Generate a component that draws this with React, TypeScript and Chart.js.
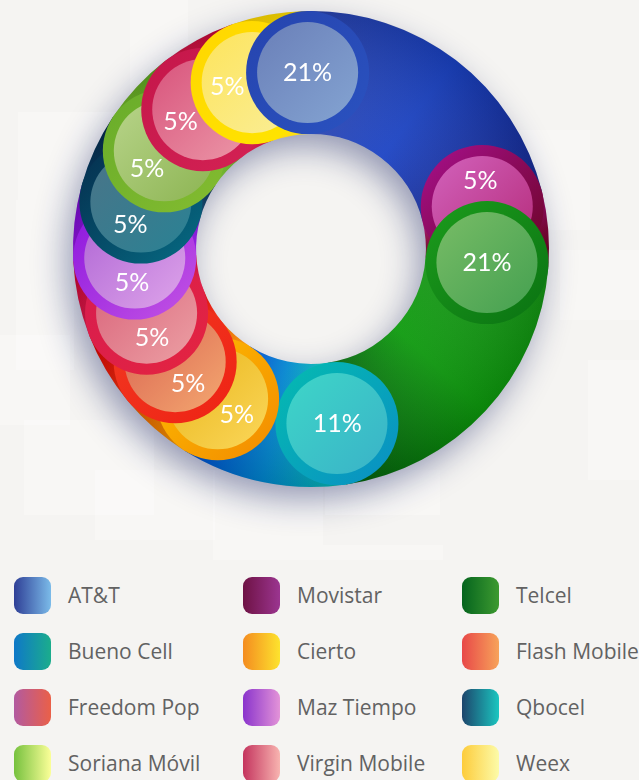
import React, { useEffect, useRef } from 'react';
import { Chart, registerables } from 'chart.js';

Chart.register(...registerables);

// ---------- data ----------
const categories = [
  'AT&T', 'Movistar', 'Telcel', 'Bueno Cell', 'Cierto', 'Flash Mobile',
  'Freedom Pop', 'Maz Tiempo', 'Qbocel', 'Soriana Móvil', 'Virgin Mobile', 'Weex',
];
const shares = [21, 5, 21, 11, 5, 5, 5, 5, 5, 5, 5, 5];
const shareLabels = shares.map((v) => `${v}%`);

// ---------- colours ----------
const bodyFrom = ['#2a44ae', '#a40c80', '#179417', '#06bfae', '#f5a000', '#f23a12', '#dc2050', '#9818e2', '#06406a', '#74ba2a', '#d2184a', '#ffd400'];
const bodyMid = ['#1a42c4', '#86063c', '#0c9a0c', '#0086d0', '#ee7a00', '#e81808', '#d41040', '#8410d8', '#053256', '#66ac24', '#cc1040', '#ffdc00'];
const bodyTo = ['#182a90', '#5e0018', '#055c0e', '#0048d0', '#e35500', '#d40000', '#c80030', '#7008c8', '#04264a', '#58a01e', '#c40030', '#ffe000'];

const capRingFrom = ['#2644ae', '#a8108e', '#1c9c1c', '#04bcb0', '#ffc000', '#f23a22', '#d61c50', '#8a14de', '#052c4c', '#68ac2a', '#c4164a', '#ffd600'];
const capRingTo = ['#2a52c0', '#680420', '#0a7212', '#0a8ec4', '#f28a00', '#ee2214', '#e42440', '#c454e4', '#066c84', '#84bc30', '#d42254', '#ffe600'];
const capInnerFrom = ['#6a7fb8', '#d262bc', '#78bc66', '#3ed6c8', '#e8b418', '#d86050', '#d86078', '#ae64d4', '#4a7488', '#b8d48a', '#d8537c', '#fde45c'];
const capInnerTo = ['#84a4d2', '#b42a78', '#44a050', '#3ab2c8', '#fbd75a', '#f4a870', '#eca0a4', '#dea4ea', '#2a8294', '#8cb452', '#ec98a8', '#faee98'];

const legendFrom = ['#2f3f96', '#6e1244', '#05641e', '#0f78c8', '#f48c20', '#e84848', '#b25aa0', '#8a34cc', '#1d456c', '#76c13e', '#c4345e', '#fdcc3c'];
const legendTo = ['#7bbbe9', '#9b3590', '#3d9a30', '#1bad8c', '#fde32e', '#f7a35a', '#ea6048', '#e393d8', '#1bc6c0', '#fbff98', '#f8b4b0', '#fcfba8'];

const PAGE_BG = '#f5f4f2';
const ROTATION_DEG = -1.1;
const CAP_BORDER = 11;

const backdropPanes = [
  [130, 0, 58, 115], [18, 112, 100, 88], [16, 200, 58, 170], [0, 335, 70, 90],
  [24, 420, 130, 95], [95, 470, 120, 70], [213, 470, 110, 75], [325, 470, 115, 45],
  [520, 130, 70, 100], [560, 250, 79, 70], [588, 360, 51, 120], [213, 545, 230, 30],
];

function segmentAngles(i: number): [number, number] {
  const total = shares.reduce((a, b) => a + b, 0);
  let before = 0;
  for (let k = 0; k < i; k++) before += shares[k];
  const start = -Math.PI / 2 + (ROTATION_DEG * Math.PI) / 180 + (2 * Math.PI * before) / total;
  const end = start + (2 * Math.PI * shares[i]) / total;
  return [start, end];
}

function segmentFill(c: any) {
  const i = c.dataIndex;
  const chart = c.chart;
  const area = chart.chartArea;
  if (!area || i === undefined) return bodyFrom[i ?? 0];
  const cx = (area.left + area.right) / 2;
  const cy = (area.top + area.bottom) / 2;
  const [a0, a1] = segmentAngles(i);
  const f = (a1 - a0) / (2 * Math.PI);
  const g = chart.ctx.createConicGradient(a0, cx, cy);
  g.addColorStop(0, bodyFrom[i]);
  g.addColorStop(f * 0.5, bodyMid[i]);
  g.addColorStop(f, bodyTo[i]);
  g.addColorStop(1, bodyTo[i]);
  return g;
}

const backdropPlugin = {
  id: 'backdrop',
  beforeDraw(chart: any) {
    const ctx = chart.ctx;
    ctx.save();
    ctx.fillStyle = 'rgba(255,255,255,0.28)';
    backdropPanes.forEach(([x, y, w, h]) => ctx.fillRect(x, y, w, h));
    ctx.restore();
  },
};

const ringShadowPlugin = {
  id: 'ringShadow',
  beforeDatasetsDraw(chart: any) {
    const meta = chart.getDatasetMeta(0);
    const el = meta.data[0];
    if (!el) return;
    const { x, y, innerRadius, outerRadius } = el;
    const ctx = chart.ctx;
    ctx.save();
    ctx.beginPath();
    ctx.arc(x, y, outerRadius - 1, 0, Math.PI * 2);
    ctx.arc(x, y, innerRadius + 1, 0, Math.PI * 2, true);
    ctx.closePath();
    ctx.shadowColor = 'rgba(25,35,100,0.45)';
    ctx.shadowBlur = 34;
    ctx.shadowOffsetX = -7;
    ctx.shadowOffsetY = 13;
    ctx.fillStyle = '#1d3aa0';
    ctx.fill('evenodd');
    ctx.restore();
  },
};

const capsPlugin = {
  id: 'caps',
  afterDatasetsDraw(chart: any) {
    const meta = chart.getDatasetMeta(0);
    const arcs = meta.data;
    if (!arcs.length) return;
    const ctx = chart.ctx;
    const { x, y, innerRadius, outerRadius } = arcs[0];
    const R = (outerRadius - innerRadius) / 2;
    const mid = innerRadius + R;

    // subtle radial shading over the ring body
    ctx.save();
    const rg = ctx.createRadialGradient(x, y, innerRadius, x, y, outerRadius);
    rg.addColorStop(0, 'rgba(255,255,255,0.06)');
    rg.addColorStop(1, 'rgba(0,0,0,0.14)');
    ctx.beginPath();
    ctx.arc(x, y, outerRadius, 0, Math.PI * 2);
    ctx.arc(x, y, innerRadius, 0, Math.PI * 2, true);
    ctx.fillStyle = rg;
    ctx.fill('evenodd');
    ctx.restore();

    const centers = arcs.map((a: any) => [x + mid * Math.cos(a.startAngle), y + mid * Math.sin(a.startAngle)]);
    const order = arcs.map((_: any, i: number) => (i + 1) % arcs.length);

    order.forEach((i: number) => {
      const [cx, cy] = centers[i];
      ctx.save();
      const ring = ctx.createLinearGradient(cx - R, cy - R, cx + R, cy + R);
      ring.addColorStop(0, capRingFrom[i]);
      ring.addColorStop(1, capRingTo[i]);
      ctx.beginPath();
      ctx.arc(cx, cy, R, 0, Math.PI * 2);
      ctx.fillStyle = ring;
      ctx.fill();
      const r2 = R - CAP_BORDER;
      const inner = ctx.createLinearGradient(cx - r2, cy - r2, cx + r2, cy + r2);
      inner.addColorStop(0, capInnerFrom[i]);
      inner.addColorStop(1, capInnerTo[i]);
      ctx.beginPath();
      ctx.arc(cx, cy, r2, 0, Math.PI * 2);
      ctx.fillStyle = inner;
      ctx.fill();
      ctx.restore();
    });

    // labels, nudged away from the next (overlapping) cap
    ctx.save();
    ctx.fillStyle = '#ffffff';
    ctx.font = '25px Lato, "Open Sans", sans-serif';
    ctx.textAlign = 'center';
    ctx.textBaseline = 'middle';
    arcs.forEach((_: any, i: number) => {
      const [cx, cy] = centers[i];
      const [nx, ny] = centers[(i + 1) % arcs.length];
      const dx = cx - nx;
      const dy = cy - ny;
      const d = Math.hypot(dx, dy) || 1;
      const shift = Math.max(0, 2 * R - d) * 0.38;
      ctx.fillText(shareLabels[i], cx + (dx / d) * shift, cy + (dy / d) * shift);
    });
    ctx.restore();
  },
};

export default function App() {
  const canvasRef = useRef<HTMLCanvasElement>(null);

  useEffect(() => {
    document.body.style.margin = '0';
    document.body.style.background = PAGE_BG;
    const canvas = canvasRef.current;
    if (!canvas) return;
    const chart = new Chart(canvas, {
      type: 'doughnut',
      data: {
        labels: categories,
        datasets: [
          {
            data: shares,
            backgroundColor: segmentFill as any,
            borderWidth: 0,
            offset: 0,
            hoverOffset: 0,
          } as any,
        ],
      },
      options: {
        responsive: false,
        maintainAspectRatio: false,
        animation: false,
        devicePixelRatio: 1,
        rotation: ROTATION_DEG,
        cutout: '48.3%',
        events: [],
        layout: { padding: { top: 11, left: 73, right: 90, bottom: 73 } },
        plugins: { legend: { display: false }, tooltip: { enabled: false } },
      } as any,
      plugins: [backdropPlugin, ringShadowPlugin, capsPlugin],
    });
    return () => chart.destroy();
  }, []);

  return (
    <div
      style={{
        position: 'fixed',
        left: 0,
        top: 0,
        width: 639,
        height: 780,
        overflow: 'hidden',
        background: PAGE_BG,
        fontFamily: '"Open Sans", sans-serif',
      }}
    >
      <canvas
        ref={canvasRef}
        width={639}
        height={560}
        style={{ position: 'absolute', left: 0, top: 0, width: 639, height: 560 }}
      />
      <div
        style={{
          position: 'absolute',
          left: 14,
          top: 577,
          display: 'grid',
          gridTemplateColumns: '229px 219px 180px',
          rowGap: 19,
        }}
      >
        {categories.map((name, i) => (
          <div key={name} style={{ display: 'flex', alignItems: 'center', height: 37, whiteSpace: 'nowrap' }}>
            <div
              style={{
                width: 37,
                height: 37,
                borderRadius: 9,
                flex: '0 0 auto',
                background: `linear-gradient(to right, ${legendFrom[i]}, ${legendTo[i]})`,
              }}
            />
            <span style={{ marginLeft: 17, fontSize: 21, color: '#626262', lineHeight: '37px' }}>{name}</span>
          </div>
        ))}
      </div>
    </div>
  );
}
